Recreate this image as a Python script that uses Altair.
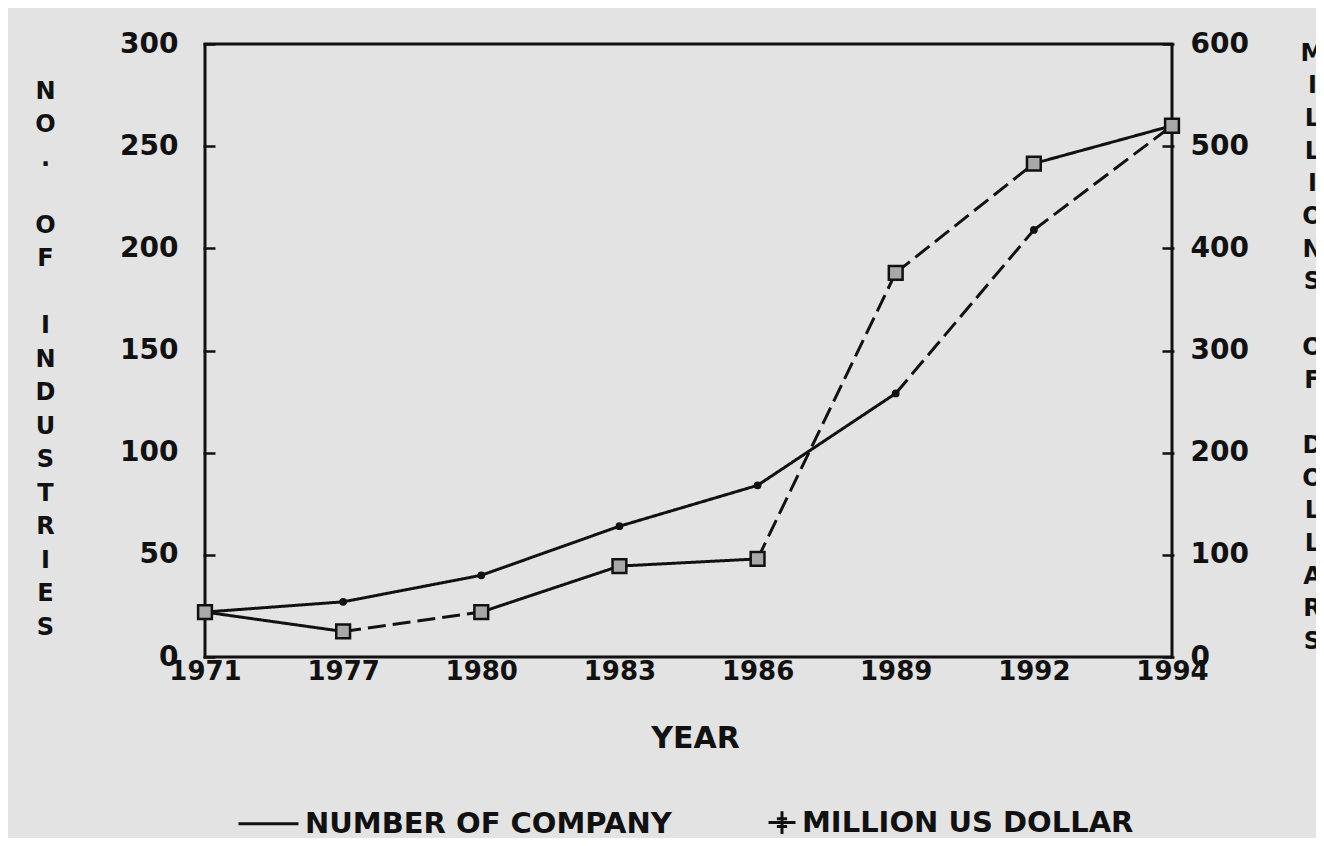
import altair as alt
import pandas as pd

years = ["1971", "1977", "1980", "1983", "1986", "1989", "1992", "1994"]
companies = [22, 27, 40, 64, 84, 129, 209, 260]
dollars = [44, 25, 44, 89, 96, 376, 483, 520]
company_dashed = [False, False, False, False, False, True, True]
dollar_dashed = [False, True, False, False, True, True, False]
left_ticks = [0, 50, 100, 150, 200, 250, 300]
right_ticks = [0, 100, 200, 300, 400, 500, 600]
series_names = ["NUMBER OF COMPANY", "MILLION US DOLLAR"]
GAP = "\u200b"
left_title = ["N", "O", ".", GAP, "O", "F", GAP, "I", "N", "D", "U", "S", "T", "R", "I", "E", "S"]
right_title = ["M", "I", "L", "L", "I", "O", "N", "S", GAP, "O", "F", GAP, "D", "O", "L", "L", "A", "R", "S"]


def segments(vals, dashed, name):
    rows = []
    for i in range(len(vals) - 1):
        style = "dashed" if dashed[i] else "solid"
        rows.append({"year": years[i], "value": vals[i], "seg": i, "style": style, "series": name})
        rows.append({"year": years[i + 1], "value": vals[i + 1], "seg": i, "style": style, "series": name})
    return pd.DataFrame(rows)


comp_pts = pd.DataFrame({"year": years, "value": companies, "series": series_names[0]})
doll_pts = pd.DataFrame({"year": years, "value": dollars, "series": series_names[1]})
comp_seg = segments(companies, company_dashed, series_names[0])
doll_seg = segments(dollars, dollar_dashed, series_names[1])

FONT = "DejaVu Sans"

x_enc = alt.X(
    "year:O",
    scale=alt.Scale(domain=years, type="point", padding=0),
    axis=alt.Axis(
        labelAngle=0, domain=False, ticks=False, labelPadding=1,
        labelFontSize=26, labelFont=FONT, labelFontWeight="bold", labelColor="#111",
        title="YEAR", titleFontSize=30, titleFont=FONT, titleFontWeight="bold",
        titleColor="#111", titleBaseline="top", titleY=66, titleX=490,
    ),
)

left_axis = alt.Axis(
    values=left_ticks, orient="left", offset=-10, tickSize=12, tickWidth=2.5,
    tickColor="#111", domain=False, grid=False, labelPadding=25,
    labelFontSize=28, labelFont=FONT, labelFontWeight="bold", labelColor="#111",
    title=left_title, titleAngle=0, titleAlign="center", titleBaseline="top",
    titleX=-170, titleY=35, titleFontSize=24, titleFont=FONT, titleFontWeight="bold",
    titleColor="#111", titleLineHeight=33.5,
)
right_axis = alt.Axis(
    values=right_ticks, orient="right", offset=-10, tickSize=12, tickWidth=2.5,
    tickColor="#111", domain=False, grid=False, labelPadding=16,
    labelFontSize=28, labelFont=FONT, labelFontWeight="bold", labelColor="#111",
    title=right_title, titleAngle=0, titleAlign="center", titleBaseline="top",
    titleX=150, titleY=-3, titleFontSize=24, titleFont=FONT, titleFontWeight="bold",
    titleColor="#111", titleLineHeight=32.7,
)

y_left = alt.Y("value:Q", scale=alt.Scale(domain=[0, 300]), axis=left_axis)
y_right = alt.Y("value:Q", scale=alt.Scale(domain=[0, 600]), axis=right_axis)

dash_scale = alt.Scale(domain=["solid", "dashed"], range=[[1, 0], [18, 7]])

comp_line = alt.Chart(comp_seg).mark_line(color="#111", strokeWidth=3).encode(
    x=x_enc, y=y_left, detail="seg:N",
    strokeDash=alt.StrokeDash("style:N", scale=dash_scale, legend=None),
)
comp_mark = alt.Chart(comp_pts).mark_point(filled=True, color="#111", size=60, opacity=1).encode(
    x=x_enc, y=y_left
)
doll_line = alt.Chart(doll_seg).mark_line(color="#111", strokeWidth=3).encode(
    x=x_enc, y=y_right, detail="seg:N",
    strokeDash=alt.StrokeDash("style:N", scale=dash_scale, legend=None),
)
doll_mark = alt.Chart(doll_pts).mark_point(
    shape="square", filled=True, fill="#a8a8a8", stroke="#111", strokeWidth=2.5, size=190, opacity=1
).encode(x=x_enc, y=y_right)

legend_layer = alt.Chart(doll_pts).mark_point(opacity=0).encode(
    x=x_enc, y=y_right,
    shape=alt.Shape(
        "series:N",
        scale=alt.Scale(
            domain=series_names,
            range=[
                "M-1,0H1",
                "M0.1,0H1M0.55,-0.38V0.38M0.38,-0.13H0.72M0.38,0.13H0.72",
            ],
        ),
        legend=alt.Legend(
            title=None, orient="none", direction="horizontal", legendX=32, legendY=747,
            symbolSize=3600, symbolStrokeWidth=3, symbolStrokeColor="#111",
            symbolFillColor="transparent", symbolOpacity=1,
            labelFont=FONT, labelFontWeight="bold", labelFontSize=29, labelColor="#111",
            labelLimit=600, labelOffset=5, columnPadding=62, padding=0,
        ),
    ),
)

left_layer = alt.layer(comp_line, comp_mark)
right_layer = alt.layer(doll_line, doll_mark, legend_layer)

chart = (
    alt.layer(left_layer, right_layer)
    .resolve_scale(y="independent", shape="independent", strokeDash="independent")
    .properties(
        width=967, height=613, autosize="none",
        padding={"left": 197, "top": 36, "right": 144, "bottom": 181},
        background="#e3e3e3",
    )
    .configure_view(stroke="#111", strokeWidth=3)
)

chart.save("out.html", embed_options={"renderer": "svg", "actions": False})
